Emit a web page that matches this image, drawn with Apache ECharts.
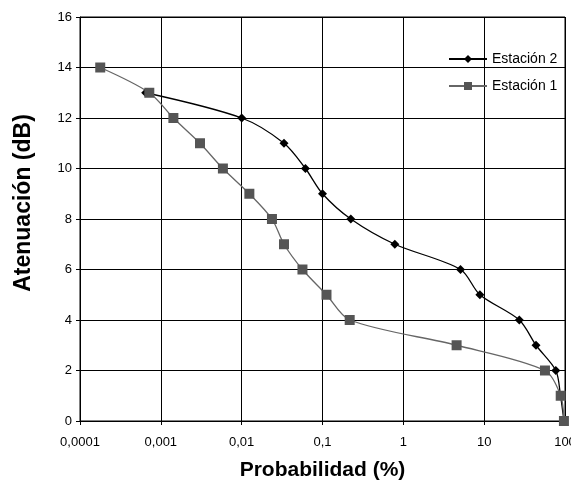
<!DOCTYPE html>
<html>
<head>
<meta charset="utf-8">
<script src="https://cdn.jsdelivr.net/npm/echarts@6/dist/echarts.min.js"></script>
<style>
html,body{margin:0;padding:0;background:#fff;}
#chart{width:571px;height:481px;}
</style>
</head>
<body>
<div id="chart"></div>
<script>
// Estación 2: [probabilidad %, atenuación dB]
const estacion2Prob = [0.00065, 0.01, 0.0334, 0.0615, 0.1, 0.224, 0.785, 5.1, 8.85, 27.2, 43.8, 77, 88, 97];
const estacion2Aten = [13, 12, 11, 10, 9, 8, 7, 6, 5, 4, 3, 2, 1, 0];
// Estación 1
const estacion1Prob = [0.000178, 0.00072, 0.00143, 0.00305, 0.00586, 0.01245, 0.0237, 0.0334, 0.0565, 0.112, 0.217, 4.56, 56.5, 88.5, 97];
const estacion1Aten = [14, 13, 12, 11, 10, 9, 8, 7, 6, 5, 4, 3, 2, 1, 0];
const xTickLabels = ['0,0001', '0,001', '0,01', '0,1', '1', '10', '100'];
const seriesNames = ['Estación 2', 'Estación 1'];

function pairs(xs, ys){
  return xs.map((x, i) => [x, ys[i]]);
}

const font = 'Liberation Sans, Arial, sans-serif';
let chart = echarts.init(document.getElementById('chart'));
chart.setOption({
  animation: false,
  textStyle: {fontFamily: font},
  grid: {
    left: 80, right: 6, top: 17, bottom: 60,
    outerBoundsMode: 'none',
    containLabel: false,
    show: true, borderColor: '#000', borderWidth: 1
  },
  legend: {
    data: seriesNames,
    orient: 'vertical',
    left: 443, top: 47,
    itemWidth: 38, itemHeight: 10,
    itemGap: 13,
    textStyle: {fontSize: 14, color: '#000', fontFamily: font}
  },
  xAxis: {
    type: 'log',
    logBase: 10,
    min: 0.0001,
    max: 100,
    name: 'Probabilidad (%)',
    nameLocation: 'middle',
    nameGap: 39,
    nameTextStyle: {fontSize: 21, fontWeight: 'bold', color: '#000', fontFamily: font},
    axisLine: {lineStyle: {color: '#000'}},
    axisTick: {show: true, length: 4, lineStyle: {color: '#000'}},
    minorTick: {show: false},
    axisLabel: {
      fontSize: 13, color: '#000', margin: 15,
      formatter: v => xTickLabels[Math.round(Math.log10(v)) + 4]
    },
    splitLine: {show: true, lineStyle: {color: '#000', width: 1}}
  },
  yAxis: {
    type: 'value',
    min: 0, max: 16, interval: 2,
    name: 'Atenuación (dB)',
    nameLocation: 'middle',
    nameGap: 45,
    nameTextStyle: {fontSize: 23, fontWeight: 'bold', color: '#000', fontFamily: font, padding: [0, 0, 0, 32]},
    axisLine: {show: true, lineStyle: {color: '#000'}},
    axisTick: {show: true, length: 4, lineStyle: {color: '#000'}},
    axisLabel: {fontSize: 13, color: '#000', margin: 8},
    splitLine: {show: true, lineStyle: {color: '#000', width: 1}}
  },
  series: [
    {
      name: seriesNames[0],
      type: 'line',
      smooth: 0.3,
      data: pairs(estacion2Prob, estacion2Aten),
      symbol: 'diamond',
      symbolSize: 9,
      itemStyle: {color: '#000'},
      lineStyle: {color: '#000', width: 1.3}
    },
    {
      name: seriesNames[1],
      type: 'line',
      smooth: 0.3,
      data: pairs(estacion1Prob, estacion1Aten),
      symbol: 'rect',
      symbolSize: 10,
      itemStyle: {color: '#555'},
      lineStyle: {color: '#666', width: 1.3}
    }
  ]
});
</script>
</body>
</html>
